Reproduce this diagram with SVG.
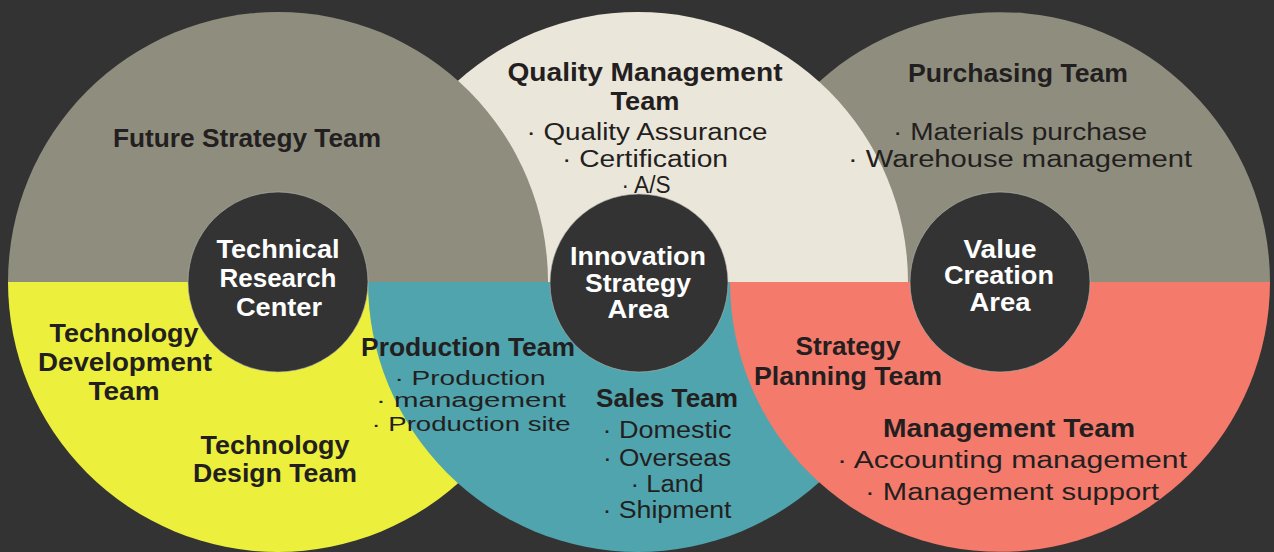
<svg xmlns="http://www.w3.org/2000/svg" width="1274" height="552" viewBox="0 0 1274 552">
<style>
.bg{fill:#333333}
.gray{fill:#8f8e7e}
.beige{fill:#ebe6da}
.yellow{fill:#ecf03c}
.teal{fill:#4fa4ae}
.salmon{fill:#f47a6b}
.hub{fill:#333333;stroke:#b8b8b0;stroke-width:1;stroke-opacity:0.6}
text{font-family:"Liberation Sans",Arial,sans-serif;text-anchor:middle}
.b{font-weight:bold;font-size:25px;fill:#231f20}
.r{font-size:23px;fill:#231f20}
.rs{font-size:20px;fill:#231f20}
.w{font-weight:bold;font-size:25px;fill:#ffffff}
</style>
<rect class="bg" x="0" y="0" width="1274" height="552"/>
<g id="segments">
  <path id="purchasing-segment" class="gray" d="M730 282 A270 270 0 0 1 1270 282 Z"/>
  <path id="quality-segment" class="beige" d="M368 282 A270 270 0 0 1 908 282 Z"/>
  <path id="future-strategy-segment" class="gray" d="M8 282 A270 270 0 0 1 548 282 Z"/>
  <path id="technology-segment" class="yellow" d="M8 282 A270 270 0 0 0 548 282 Z"/>
  <path id="production-sales-segment" class="teal" d="M368 282 A270 270 0 0 0 908 282 Z"/>
  <path id="management-segment" class="salmon" d="M730 282 A270 270 0 0 0 1270 282 Z"/>
</g>
<g id="hub-technical-research-center">
  <circle class="hub" cx="278" cy="282" r="90"/>
  <text class="w" x="278" y="258" textLength="123" lengthAdjust="spacingAndGlyphs">Technical</text>
  <text class="w" x="278" y="287" textLength="117" lengthAdjust="spacingAndGlyphs">Research</text>
  <text class="w" x="279" y="316" textLength="86" lengthAdjust="spacingAndGlyphs">Center</text>
</g>
<g id="hub-innovation-strategy-area">
  <circle class="hub" cx="639" cy="283" r="89"/>
  <text class="w" x="638" y="265" textLength="136" lengthAdjust="spacingAndGlyphs">Innovation</text>
  <text class="w" x="638" y="292" textLength="106" lengthAdjust="spacingAndGlyphs">Strategy</text>
  <text class="w" x="638" y="318" textLength="61" lengthAdjust="spacingAndGlyphs">Area</text>
</g>
<g id="hub-value-creation-area">
  <circle class="hub" cx="1000" cy="282" r="90"/>
  <text class="w" x="1000" y="258" textLength="73" lengthAdjust="spacingAndGlyphs">Value</text>
  <text class="w" x="999" y="284" textLength="110" lengthAdjust="spacingAndGlyphs">Creation</text>
  <text class="w" x="1000" y="311" textLength="61" lengthAdjust="spacingAndGlyphs">Area</text>
</g>
<g id="future-strategy-team">
  <text class="b" x="247" y="147" textLength="268" lengthAdjust="spacingAndGlyphs">Future Strategy Team</text>
</g>
<g id="technology-development-team">
  <text class="b" x="124" y="342" textLength="149" lengthAdjust="spacingAndGlyphs">Technology</text>
  <text class="b" x="125" y="371" textLength="174" lengthAdjust="spacingAndGlyphs">Development</text>
  <text class="b" x="124" y="400" textLength="71" lengthAdjust="spacingAndGlyphs">Team</text>
</g>
<g id="technology-design-team">
  <text class="b" x="275" y="454" textLength="149" lengthAdjust="spacingAndGlyphs">Technology</text>
  <text class="b" x="275" y="482" textLength="164" lengthAdjust="spacingAndGlyphs">Design Team</text>
</g>
<g id="quality-management-team">
  <text class="b" x="645" y="81" textLength="275" lengthAdjust="spacingAndGlyphs">Quality Management</text>
  <text class="b" x="645" y="110" textLength="69" lengthAdjust="spacingAndGlyphs">Team</text>
  <text class="r" x="647" y="140" textLength="241" lengthAdjust="spacingAndGlyphs">· Quality Assurance</text>
  <text class="r" x="645" y="167" textLength="166" lengthAdjust="spacingAndGlyphs">· Certification</text>
  <text class="r" x="646" y="193" textLength="49" lengthAdjust="spacingAndGlyphs">· A/S</text>
</g>
<g id="production-team">
  <text class="b" x="468" y="356" textLength="214" lengthAdjust="spacingAndGlyphs">Production Team</text>
  <text class="rs" x="470" y="385" textLength="151" lengthAdjust="spacingAndGlyphs">· Production</text>
  <text class="rs" x="471" y="407" textLength="190" lengthAdjust="spacingAndGlyphs">· management</text>
  <text class="rs" x="471" y="431" textLength="199" lengthAdjust="spacingAndGlyphs">· Production site</text>
</g>
<g id="sales-team">
  <text class="b" x="667" y="407" textLength="142" lengthAdjust="spacingAndGlyphs">Sales Team</text>
  <text class="r" x="667" y="438" textLength="129" lengthAdjust="spacingAndGlyphs">· Domestic</text>
  <text class="r" x="667" y="466" textLength="128" lengthAdjust="spacingAndGlyphs">· Overseas</text>
  <text class="r" x="667" y="492" textLength="73" lengthAdjust="spacingAndGlyphs">· Land</text>
  <text class="r" x="667" y="518" textLength="129" lengthAdjust="spacingAndGlyphs">· Shipment</text>
</g>
<g id="purchasing-team">
  <text class="b" x="1018" y="82" textLength="220" lengthAdjust="spacingAndGlyphs">Purchasing Team</text>
  <text class="r" x="1020" y="140" textLength="254" lengthAdjust="spacingAndGlyphs">· Materials purchase</text>
  <text class="r" x="1020" y="167" textLength="344" lengthAdjust="spacingAndGlyphs">· Warehouse management</text>
</g>
<g id="strategy-planning-team">
  <text class="b" x="848" y="355" textLength="105" lengthAdjust="spacingAndGlyphs">Strategy</text>
  <text class="b" x="848" y="385" textLength="188" lengthAdjust="spacingAndGlyphs">Planning Team</text>
</g>
<g id="management-team">
  <text class="b" x="1009" y="437" textLength="252" lengthAdjust="spacingAndGlyphs">Management Team</text>
  <text class="r" x="1012" y="468" textLength="350" lengthAdjust="spacingAndGlyphs">· Accounting management</text>
  <text class="r" x="1012" y="500" textLength="294" lengthAdjust="spacingAndGlyphs">· Management support</text>
</g>
</svg>
